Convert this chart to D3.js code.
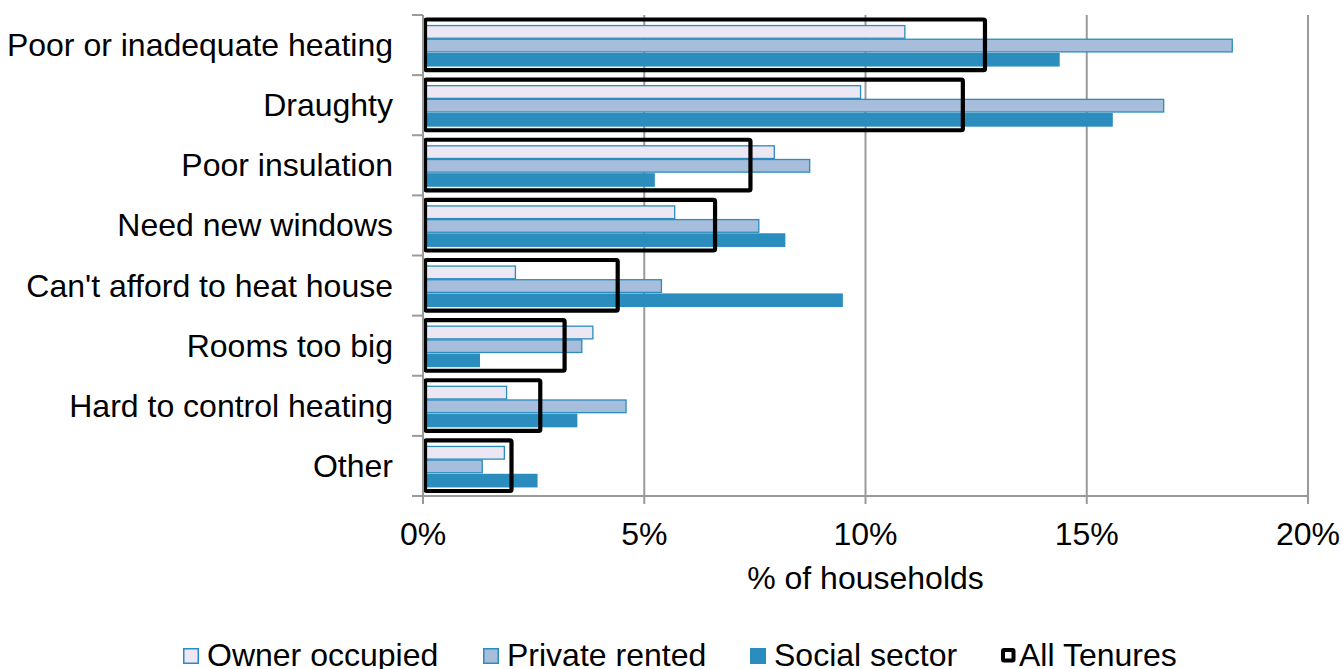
<!DOCTYPE html>
<html>
<head>
<meta charset="utf-8">
<script src="https://cdn.jsdelivr.net/npm/d3@7"></script>
<style>
  html, body { margin: 0; padding: 0; background: #fff; }
  svg { display: block; font-family: "Liberation Sans", Arial, sans-serif; }
</style>
</head>
<body>
<svg id="chart" width="1343" height="669"></svg>
<script>
// Reasons households give for their home being hard to heat, by tenure (% of households)
const categories = [
  "Poor or inadequate heating",
  "Draughty",
  "Poor insulation",
  "Need new windows",
  "Can't afford to heat house",
  "Rooms too big",
  "Hard to control heating",
  "Other"
];
const ownerOccupied = [10.9, 9.9, 7.95, 5.7, 2.1, 3.85, 1.9, 1.85];
const privateRented = [18.3, 16.75, 8.75, 7.6, 5.4, 3.6, 4.6, 1.35];
const socialSector  = [14.4, 15.6, 5.25, 8.2, 9.5, 1.3, 3.5, 2.6];
const allTenures    = [12.7, 12.2, 7.4, 6.6, 4.4, 3.2, 2.65, 2.0];
const xTicks = [0, 5, 10, 15, 20];
const seriesNames = ["Owner occupied", "Private rented", "Social sector", "All Tenures"];

const svg = d3.select("#chart");
const margin = { top: 15, left: 423, right: 35, bottom: 173 };
const W = 1343, H = 669;
const plotW = W - margin.left - margin.right;
const plotH = H - margin.top - margin.bottom;

const x = d3.scaleLinear().domain([0, 20]).range([0, plotW]);
const y = d3.scaleBand().domain(categories).range([0, plotH]);
const inner = d3.scaleBand().domain([0, 1, 2]).range([0, 41]);

const g = svg.append("g").attr("transform", `translate(${margin.left},${margin.top})`);
const gridColor = "#9a9a9a";

// vertical gridlines
g.append("g").selectAll("line").data(xTicks.slice(1)).join("line")
  .attr("x1", d => x(d)).attr("x2", d => x(d))
  .attr("y1", 0).attr("y2", plotH)
  .attr("stroke", gridColor).attr("stroke-width", 2);

// tenure bars
const fills = ["#ece7f2", "#a6bddb", "#2b8cbe"];
const strokes = ["#2b8cbe", "#2b8cbe", "none"];
const series = [ownerOccupied, privateRented, socialSector];
const barOffset = (y.bandwidth() - 41) / 2 + 0.5;

series.forEach((vals, si) => {
  g.append("g").selectAll("rect").data(vals).join("rect")
    .attr("x", x(0) + 0.5)
    .attr("y", (d, i) => y(categories[i]) + barOffset + inner(si) + 0.5)
    .attr("width", d => x(d) - x(0) - 1)
    .attr("height", inner.bandwidth() - (si < 2 ? 1 : 0))
    .attr("fill", fills[si])
    .attr("stroke", strokes[si])
    .attr("stroke-width", si < 2 ? 1.3 : 0);
});

// all-tenures outline boxes
const boxPad = 4.5;
g.append("g").selectAll("rect").data(allTenures).join("rect")
  .attr("x", x(0) + 2)
  .attr("y", (d, i) => y(categories[i]) + boxPad)
  .attr("width", d => x(d) - x(0) - 2)
  .attr("height", y.bandwidth() - 2 * boxPad - 0.5)
  .attr("fill", "none")
  .attr("stroke", "#000")
  .attr("stroke-width", 4.2)
  .attr("rx", 1.5);

// y axis line and category tick marks
g.append("line").attr("x1", 0).attr("x2", 0).attr("y1", 0).attr("y2", plotH)
  .attr("stroke", gridColor).attr("stroke-width", 2);
const bounds = categories.map(c => y(c)).concat([plotH]);
g.append("g").selectAll("line").data(bounds).join("line")
  .attr("x1", -11).attr("x2", 0).attr("y1", d => d).attr("y2", d => d)
  .attr("stroke", gridColor).attr("stroke-width", 2);

// x axis line and ticks
g.append("line").attr("x1", -11).attr("x2", plotW).attr("y1", plotH).attr("y2", plotH)
  .attr("stroke", gridColor).attr("stroke-width", 2);
g.append("g").selectAll("line").data(xTicks).join("line")
  .attr("x1", d => x(d)).attr("x2", d => x(d)).attr("y1", plotH).attr("y2", plotH + 8)
  .attr("stroke", gridColor).attr("stroke-width", 2);

const fontSize = 32;
// x tick labels
g.append("g").selectAll("text").data(xTicks).join("text")
  .attr("x", d => x(d)).attr("y", plotH + 49)
  .attr("text-anchor", "middle")
  .attr("font-size", fontSize).attr("fill", "#000")
  .text(d => d + "%");

// category labels
g.append("g").selectAll("text").data(categories).join("text")
  .attr("x", -30).attr("y", d => y(d) + y.bandwidth() / 2 + 11)
  .attr("text-anchor", "end")
  .attr("font-size", fontSize).attr("fill", "#000")
  .text(d => d);

// axis title
g.append("text").attr("x", x(10)).attr("y", plotH + 93)
  .attr("text-anchor", "middle").attr("font-size", fontSize).attr("fill", "#000")
  .text("% of households");

// legend
const legendX = [183, 483, 750, 1001];
const lg = svg.append("g");
seriesNames.forEach((name, i) => {
  const item = lg.append("g").attr("transform", `translate(${legendX[i]},655)`);
  if (i < 3) {
    item.append("rect").attr("x", 0.75).attr("y", -6.25).attr("width", 14.5).attr("height", 14.5)
      .attr("fill", fills[i]).attr("stroke", i < 2 ? "#2b8cbe" : "none").attr("stroke-width", 1.5);
    if (i === 2) item.select("rect").attr("x", 0).attr("y", -7).attr("width", 16).attr("height", 16);
  } else {
    item.append("rect").attr("x", 2).attr("y", -5).attr("width", 10.5).attr("height", 10.5)
      .attr("fill", "#fff").attr("stroke", "#000").attr("stroke-width", 4).attr("rx", 1);
  }
  item.append("text").attr("x", i < 3 ? 24 : 18).attr("y", 11)
    .attr("font-size", fontSize).attr("fill", "#000").text(name);
});
</script>
</body>
</html>
